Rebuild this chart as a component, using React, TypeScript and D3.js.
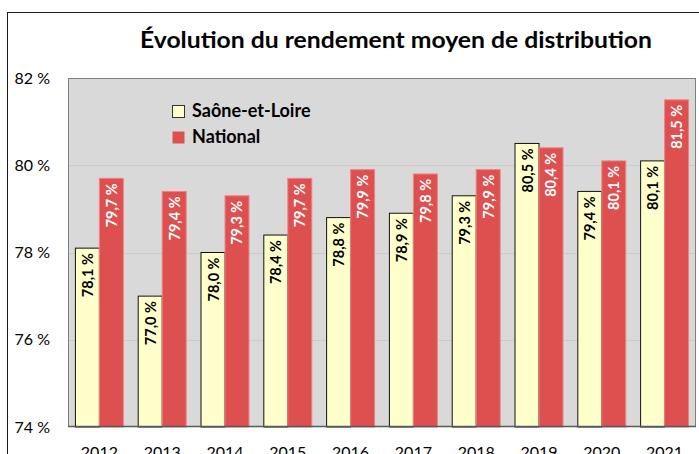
import React from "react";
import * as d3 from "d3";

const years = ["2012", "2013", "2014", "2015", "2016", "2017", "2018", "2019", "2020", "2021"];
const saoneEtLoire = [78.1, 77.0, 78.0, 78.4, 78.8, 78.9, 79.3, 80.5, 79.4, 80.1];
const national = [79.7, 79.4, 79.3, 79.7, 79.9, 79.8, 79.9, 80.4, 80.1, 81.5];
const yTicks = [74, 76, 78, 80, 82];
const seriesNames = ["Saône-et-Loire", "National"];
const title = "Évolution du rendement moyen de distribution";

const W = 699;
const H = 454;
const plot = { left: 68, right: 696, top: 78, bottom: 427 };
const FONT = "Lato, 'Open Sans', sans-serif";
const YELLOW = "#ffffcc";
const RED = "#de5050";

const fmt = (v: number) => v.toFixed(1).replace(".", ",") + " %";

export default function App() {
  const x = d3.scaleBand<string>().domain(years).range([plot.left, plot.right]).paddingInner(0.236).paddingOuter(0.118);
  const y = d3.scaleLinear().domain([74, 82]).range([plot.bottom, plot.top]);
  const sub = d3.scaleBand<number>().domain([0, 1]).range([0, x.bandwidth()]);
  const series = [saoneEtLoire, national];

  return (
    <div style={{ position: "fixed", left: 0, top: 0 }}>
      <svg width={W} height={H} style={{ display: "block", background: "#fff" }}>
        {/* chart frame */}
        <rect x={7.5} y={12.5} width={W + 20} height={H + 20} fill="#fff" stroke="#1a1a1a" strokeWidth={1} />
        <text x={140} y={48} textLength={512} lengthAdjust="spacingAndGlyphs" fontFamily={FONT} fontWeight="bold" fontSize={23} fill="#000">
          {title}
        </text>
        {/* plot area */}
        <rect x={plot.left} y={plot.top} width={plot.right - plot.left} height={plot.bottom - plot.top} fill="#d9d9d9" />
        {yTicks.slice(1, -1).map((t) => (
          <line key={t} x1={plot.left} x2={plot.right} y1={Math.round(y(t)) + 0.5} y2={Math.round(y(t)) + 0.5} stroke="#cbcbcb" strokeWidth={1} />
        ))}
        {yTicks.map((t) => (
          <text key={t} x={50} y={y(t)} dy="0.35em" textAnchor="end" fontFamily={FONT} fontSize={16} fill="#000">
            {t} %
          </text>
        ))}
        {years.map((yr, i) => (
          <g key={yr}>
            {series.map((s, k) => {
              const bx = (x(yr) as number) + sub(k)!;
              const bw = sub.bandwidth();
              const top = y(s[i]);
              return (
                <g key={k}>
                  <rect
                    x={bx}
                    y={top}
                    width={bw}
                    height={plot.bottom - top}
                    fill={k === 0 ? YELLOW : RED}
                    stroke={k === 0 ? "#111" : "#ea8585"}
                    strokeWidth={1}
                  />
                  <text
                    transform={`translate(${bx + bw / 2},${top + 5}) rotate(-90)`}
                    textAnchor="end"
                    dominantBaseline="central"
                    fontFamily={FONT}
                    fontWeight="bold"
                    fontSize={14.5}
                    fill={k === 0 ? "#000" : "#fff"}
                  >
                    {fmt(s[i])}
                  </text>
                </g>
              );
            })}
            <text x={(x(yr) as number) + x.bandwidth() / 2} y={458} textAnchor="middle" fontFamily={FONT} fontSize={16} fill="#000">
              {yr}
            </text>
          </g>
        ))}
        {/* plot border */}
        <rect x={plot.left + 0.5} y={plot.top + 0.5} width={plot.right - plot.left - 1} height={plot.bottom - plot.top - 1} fill="none" stroke="#7f7f7f" strokeWidth={1} />
        <line x1={plot.left} x2={plot.right} y1={plot.bottom - 0.5} y2={plot.bottom - 0.5} stroke="#595959" strokeWidth={1.5} />
        {/* legend */}
        {seriesNames.map((n, k) => (
          <g key={n} transform={`translate(172,${105 + k * 26})`}>
            <rect x={0.5} y={0.5} width={12} height={12} fill={k === 0 ? YELLOW : RED} stroke={k === 0 ? "#333" : "none"} />
            <text x={20} y={12} fontFamily={FONT} fontWeight="bold" fontSize={18} fill="#000">
              {n}
            </text>
          </g>
        ))}
      </svg>
    </div>
  );
}
